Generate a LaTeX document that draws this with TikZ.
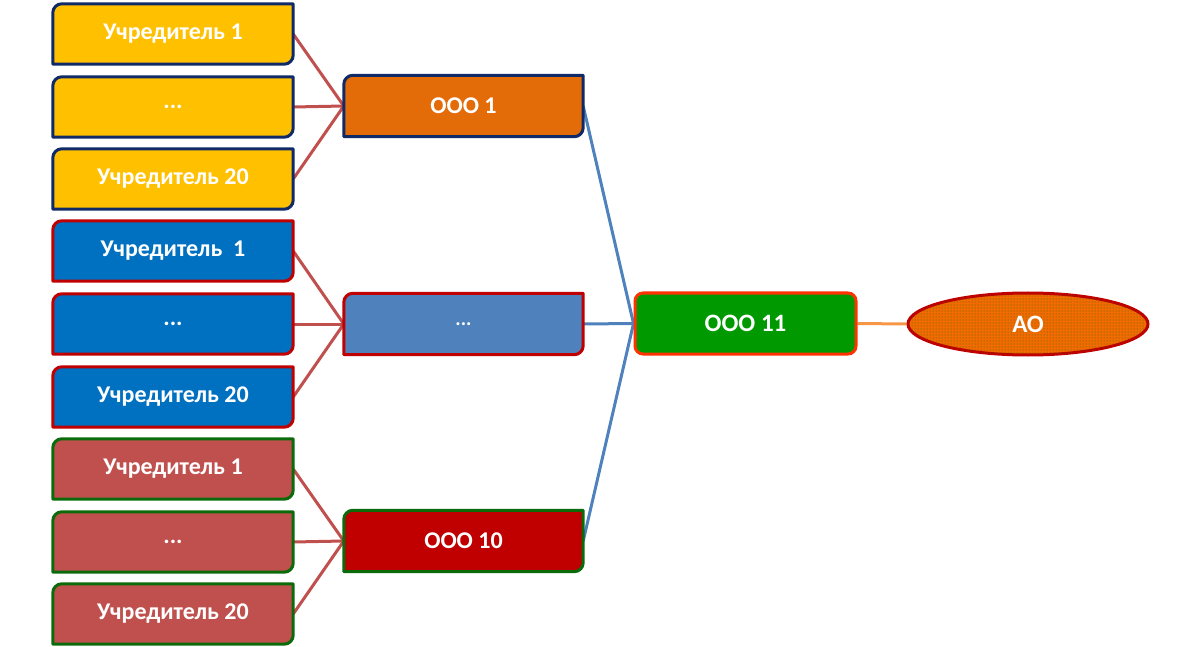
\documentclass[tikz,border=0pt]{standalone}
\usepackage{fontspec}
\setmainfont{Carlito}
\usetikzlibrary{shapes.geometric,backgrounds,patterns}

% colours of the boxes and lines
\definecolor{goldfill}{HTML}{FFC000}
\definecolor{navyline}{HTML}{0F2A66}
\definecolor{bluefill}{HTML}{0070C0}
\definecolor{redline}{HTML}{C00000}
\definecolor{rosefill}{HTML}{C0504D}
\definecolor{greenline}{HTML}{0B6B0B}
\definecolor{orangefill}{HTML}{E36C09}
\definecolor{steelfill}{HTML}{4F81BD}
\definecolor{greenfill}{HTML}{009900}
\definecolor{scarletline}{HTML}{FF3300}
\definecolor{aofill}{HTML}{F26A00}
\definecolor{aodots}{HTML}{2E6B10}
\definecolor{rodlink}{HTML}{C0504D}
\definecolor{bluelink}{HTML}{4F81BD}
\definecolor{orangelink}{HTML}{F79646}

\tikzset{
  leaf/.style={minimum width=240pt, minimum height=60pt, inner sep=0pt,
    text=white, font=\bfseries\fontsize{24}{28}\selectfont},
  firm/.style={minimum width=239pt, minimum height=61pt, inner sep=0pt,
    text=white, font=\bfseries\fontsize{24}{28}\selectfont},
  link/.style={line width=3pt},
}

% box with the top left and bottom right corners rounded
\newcommand{\cornerbox}[3]{%
  \filldraw[fill=#2, draw=#3, line width=3pt, line join=round]
    (#1.south west) -- ([yshift=-9pt]#1.north west)
    arc[start angle=180, end angle=90, radius=9pt] -- (#1.north east)
    -- ([yshift=9pt]#1.south east)
    arc[start angle=0, end angle=-90, radius=9pt] -- cycle;}

\begin{document}
\begin{tikzpicture}[x=1pt, y=1pt]
    \useasboundingbox (0,0) rectangle (1200,-647);

    % Founders of the first company
    \node[leaf] (a1) at (173, -34) {Учредитель 1};
    \node[leaf] (a2) at (173,-107) {...};
    \node[leaf] (a3) at (173,-179) {Учредитель 20};

    % Founders of the middle company
    \node[leaf] (b1) at (173,-251) {Учредитель\ \ 1};
    \node[leaf] (b2) at (173,-324) {...};
    \node[leaf] (b3) at (173,-397) {Учредитель 20};

    % Founders of the tenth company
    \node[leaf] (c1) at (173,-469) {Учредитель 1};
    \node[leaf] (c2) at (173,-542) {...};
    \node[leaf] (c3) at (173,-614) {Учредитель 20};

    % The ten companies
    \node[firm] (m1) at (463.5,-106) {ООО 1};
    \node[firm, font=\bfseries\fontsize{20}{24}\selectfont] (m2) at (463.5,-324) {...};
    \node[firm] (m3) at (463.5,-541) {ООО 10};

    % The company they own, and the joint-stock company
    \node[minimum width=221pt, minimum height=61pt, rounded corners=8pt,
          fill=greenfill, draw=scarletline, line width=3pt, text=white,
          font=\bfseries\fontsize{25}{29}\selectfont] (top) at (745.5,-323.5) {ООО 11};
    \node[ellipse, minimum width=240pt, minimum height=62pt, inner sep=0pt,
          fill=aofill, draw=redline, line width=3pt, text=white,
          postaction={pattern=dots, pattern color=aodots},
          font=\bfseries\fontsize{25}{29}\selectfont] (ao) at (1028,-324) {АО};

    \begin{scope}[on background layer]
        % Lines from the founders to their company
        \draw[link, rodlink] (a1.east) -- (m1.west);
        \draw[link, rodlink] (a2.east) -- (m1.west);
        \draw[link, rodlink] (a3.east) -- (m1.west);
        \draw[link, rodlink] (b1.east) -- (m2.west);
        \draw[link, rodlink] (b2.east) -- (m2.west);
        \draw[link, rodlink] (b3.east) -- (m2.west);
        \draw[link, rodlink] (c1.east) -- (m3.west);
        \draw[link, rodlink] (c2.east) -- (m3.west);
        \draw[link, rodlink] (c3.east) -- (m3.west);

        % Lines from the ten companies to OOO 11
        \draw[link, bluelink] (m1.east) -- (top.west);
        \draw[link, bluelink] (m2.east) -- (top.west);
        \draw[link, bluelink] (m3.east) -- (top.west);

        % OOO 11 -- AO
        \draw[link, orangelink] (top.east) -- (ao.west);

        % Box outlines
        \cornerbox{a1}{goldfill}{navyline}
        \cornerbox{a2}{goldfill}{navyline}
        \cornerbox{a3}{goldfill}{navyline}
        \cornerbox{b1}{bluefill}{redline}
        \cornerbox{b2}{bluefill}{redline}
        \cornerbox{b3}{bluefill}{redline}
        \cornerbox{c1}{rosefill}{greenline}
        \cornerbox{c2}{rosefill}{greenline}
        \cornerbox{c3}{rosefill}{greenline}
        \cornerbox{m1}{orangefill}{navyline}
        \cornerbox{m2}{steelfill}{redline}
        \cornerbox{m3}{redline}{greenline}
    \end{scope}

\end{tikzpicture}
\end{document}
